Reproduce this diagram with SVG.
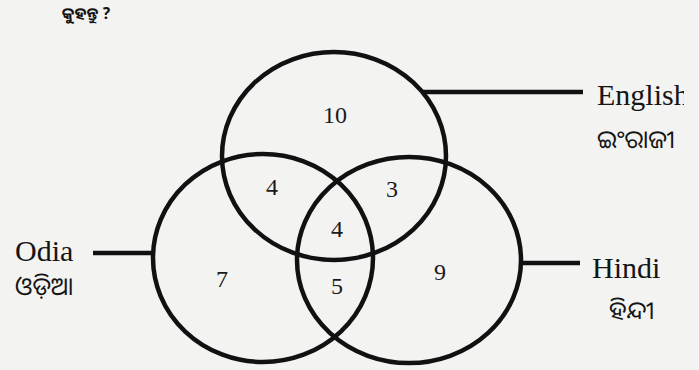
<svg xmlns="http://www.w3.org/2000/svg" width="699" height="370" viewBox="0 0 699 370">
<style>
.bg{fill:#f3f3f1}
.set{fill:none;stroke:#111;stroke-width:4.5}
.con{stroke:#111;stroke-width:4.5;fill:none}
.lab{font-family:"Liberation Serif","Times New Roman",serif;font-size:30px;fill:#151515}
.od{font-family:"Noto Sans Oriya","Lohit Odia","Noto Sans",sans-serif;font-size:25px;fill:#151515}
.num{font-family:"Liberation Serif","Times New Roman",serif;font-size:24px;fill:#1a1a1a;text-anchor:middle}
</style>
<defs>
<clipPath id="engclip"><rect x="0" y="0" width="684" height="370"/></clipPath>
</defs>
<rect class="bg" x="0" y="0" width="699" height="370"/>
<text class="od" x="62" y="19" style="font-weight:bold;font-size:16px">କୁହନ୍ତୁ ?</text>
<g id="connectors">
<line class="con" x1="422" y1="92" x2="583" y2="92"/>
<line class="con" x1="93" y1="253" x2="153" y2="253"/>
<line class="con" x1="521" y1="263" x2="580" y2="263"/>
</g>
<g id="english">
<ellipse class="set" cx="334" cy="156" rx="112" ry="104"/>
<text class="lab" x="597" y="105" clip-path="url(#engclip)">English</text>
<text class="od" x="597" y="148">ଇଂରାଜୀ</text>
</g>
<g id="odia">
<ellipse class="set" cx="263" cy="258" rx="110" ry="104"/>
<text class="lab" x="15" y="261">Odia</text>
<text class="od" x="15" y="295">ଓଡ଼ିଆ</text>
</g>
<g id="hindi">
<ellipse class="set" cx="409" cy="260" rx="112" ry="103"/>
<text class="lab" x="592" y="278">Hindi</text>
<text class="od" x="609" y="319">ହିନ୍ଦୀ</text>
</g>
<g id="regions">
<text class="num" x="335" y="123">10</text>
<text class="num" x="272" y="195">4</text>
<text class="num" x="392" y="197">3</text>
<text class="num" x="337" y="237">4</text>
<text class="num" x="337" y="294">5</text>
<text class="num" x="222" y="287">7</text>
<text class="num" x="440" y="280">9</text>
</g>
</svg>
